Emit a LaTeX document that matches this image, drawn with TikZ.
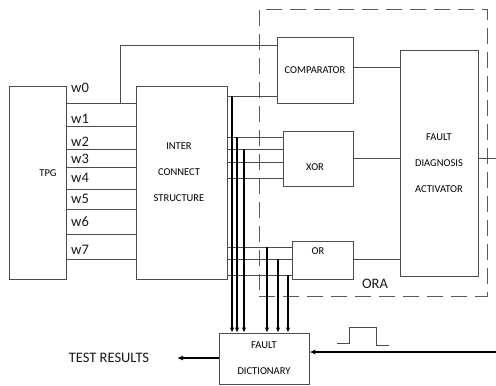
\documentclass[tikz,border=0pt]{standalone}
\usepackage{fontspec}
\setmainfont{Carlito}
\usetikzlibrary{positioning,arrows.meta}
\begin{document}
\begin{tikzpicture}[
  x=1pt,y=-1pt,
  block/.style={draw=black!70,line width=0.9pt,rectangle,inner sep=0pt},
  boxtext/.style={align=center,font=\fontsize{10.5}{26}\selectfont,text=black},
  wlabel/.style={anchor=west,inner sep=0pt,font=\fontsize{14.5}{16}\selectfont,text=black!90},
  bigtext/.style={inner sep=0pt,font=\fontsize{14.5}{16}\selectfont,text=black!90},
  wire/.style={draw=black!70,line width=0.9pt},
  bus/.style={-{Latex[length=5pt,width=4.5pt]},line width=1.6pt},
  arrow/.style={-{Latex[length=6pt,width=5pt]},line width=1.4pt},
  orabox/.style={draw=black!65,line width=0.9pt,dash pattern=on 16pt off 8pt,inner sep=0pt}
]
\useasboundingbox (0,0) rectangle (496,386);
\node[orabox,minimum width=228pt,minimum height=287pt] (ora) at (373,152.5) {};
\node[bigtext] (oratxt) at (375,284) {ORA};
\node[block,minimum width=57pt,minimum height=193pt] (tpg) at (37.5,182.5) {};
\node[boxtext] (tpgtxt) at (48,173) {TPG};
\node[block,minimum width=91pt,minimum height=193pt] (ics) at (181.5,182.5) {};
\node[boxtext] (icstxt) at (179,172.5) {INTER\\CONNECT\\STRUCTURE};
\node[block,boxtext,minimum width=76pt,minimum height=66pt] (comp) at (315,70) {COMPARATOR};
\node[block,minimum width=70pt,minimum height=55pt] (xor) at (318,158.5) {};
\node[boxtext] (xortxt) at (315,167) {XOR};
\node[block,minimum width=61pt,minimum height=38pt] (or) at (322.5,260) {};
\node[boxtext] (ortxt) at (318,251) {OR};
\node[block,boxtext,minimum width=78pt,minimum height=226pt] (fda) at (439,163) {FAULT\\DIAGNOSIS\\ACTIVATOR};
\node[block,boxtext,minimum width=90pt,minimum height=51pt] (fd) at (264,358.5) {FAULT\\DICTIONARY};
\node[bigtext] (tr) at (109,358) {TEST RESULTS};

\foreach \y/\w/\ly in {103/w0/88,126/w1/119,149/w2/142,167/w3/159,189/w4/178,209/w5/199,234/w6/222,259/w7/250}{
  \draw[wire] (tpg.east |- 0,\y) -- (ics.west |- 0,\y);
  \node[wlabel] (\w) at (71,\ly) {\w};
}
\coordinate (tap) at (120,103);
\draw[wire] (tap) |- (comp.west |- 0,45);
\draw[wire] (ics.east |- 0,96) -- (comp.west |- 0,96);
\foreach \y in {137,149,162,178}
  \draw[wire] (ics.east |- 0,\y) -- (xor.west |- 0,\y);
\foreach \y in {247,259,275}
  \draw[wire] (ics.east |- 0,\y) -- (or.west |- 0,\y);

\draw[wire] (comp.east |- 0,67) -- (fda.west |- 0,67);
\draw[wire] (xor.east |- 0,158) -- (fda.west |- 0,158);
\draw[wire] (or.east |- 0,259) -- (fda.west |- 0,259);
\coordinate (out) at (496,158);
\draw[wire] (fda.east |- out) -- (out);

\foreach \x/\y in {232/96,237/137,244/149,267/247,278/259,288/275}
  \draw[bus] (\x,\y) -- (\x,0 |- fd.north);

\coordinate (trtip) at (177,358);
\draw[arrow] (fd.west |- trtip) -- (trtip);
\coordinate (clk) at (496,352);
\draw[arrow] (clk) -- (fd.east |- clk);
\draw[wire] (337,343) -| (349,327) -| (376,345) -- (389,345);
\end{tikzpicture}
\end{document}
